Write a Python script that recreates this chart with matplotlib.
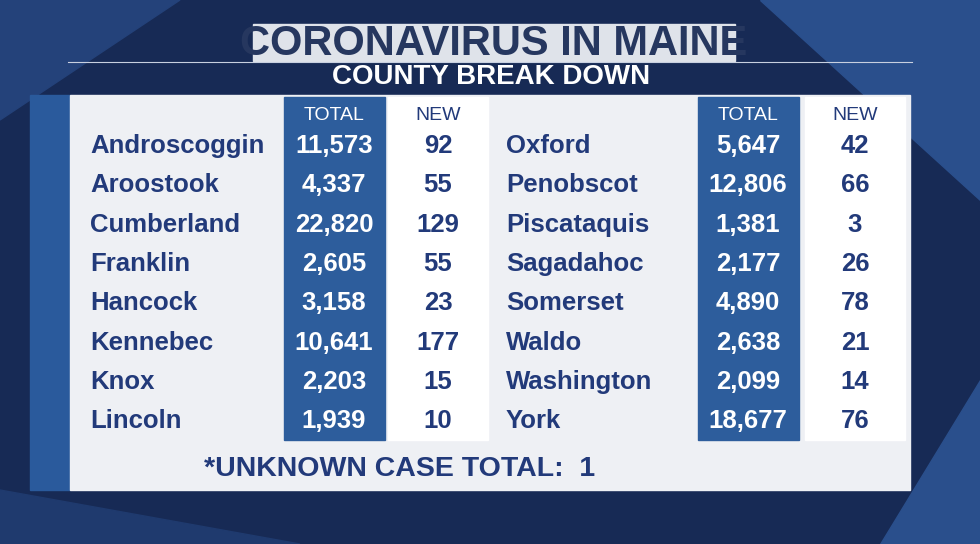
import matplotlib.pyplot as plt
from matplotlib.patches import Rectangle, Polygon

plt.rcParams["font.family"] = ["Liberation Sans", "DejaVu Sans"]

# Data
left_counties = ["Androscoggin", "Aroostook", "Cumberland", "Franklin",
                 "Hancock", "Kennebec", "Knox", "Lincoln"]
left_total = ["11,573", "4,337", "22,820", "2,605", "3,158", "10,641", "2,203", "1,939"]
left_new = ["92", "55", "129", "55", "23", "177", "15", "10"]
right_counties = ["Oxford", "Penobscot", "Piscataquis", "Sagadahoc",
                  "Somerset", "Waldo", "Washington", "York"]
right_total = ["5,647", "12,806", "1,381", "2,177", "4,890", "2,638", "2,099", "18,677"]
right_new = ["42", "66", "3", "26", "78", "21", "14", "76"]
title = "CORONAVIRUS IN MAINE"
subtitle = "COUNTY BREAK DOWN"
footnote = "*UNKNOWN CASE TOTAL:  1"

navy = "#223a7a"
colblue = "#2d5d9c"

fig = plt.figure(figsize=(9.8, 5.44), dpi=100)
ax = fig.add_axes([0, 0, 1, 1])
ax.set_xlim(0, 980)
ax.set_ylim(544, 0)
ax.axis("off")

# background with diagonal bands
ax.add_patch(Rectangle((0, 0), 980, 544, color="#172a55", zorder=0))
ax.add_patch(Polygon([(0, 0), (180, 0), (0, 120)], color="#24427a", zorder=0))
ax.add_patch(Polygon([(760, 0), (980, 0), (980, 200)], color="#2a4f8c", zorder=0))
ax.add_patch(Polygon([(880, 544), (980, 544), (980, 380)], color="#2a4f8c", zorder=0))
ax.add_patch(Polygon([(0, 490), (300, 544), (0, 544)], color="#1f3a6e", zorder=0))

# title
ax.add_patch(Rectangle((253, 24), 482, 37, color="#dfe3ea", zorder=1))
ax.text(494, 44, title, ha="center", va="center", fontsize=30,
        fontweight="bold", color="#26375f", zorder=2)
ax.plot([68, 912], [62, 62], color="#c8d0e0", lw=0.8, zorder=1)
ax.text(491, 77, subtitle, ha="center", va="center", fontsize=20,
        fontweight="bold", color="white", zorder=2)

# panel
ax.add_patch(Rectangle((30, 95), 40, 395, color="#2a5a9c", zorder=1))
ax.add_patch(Rectangle((70, 95), 840, 395, color="#eef0f4", zorder=1))

row_y = [146 + i * 39.3 for i in range(8)]
header_y = 116

blocks = [
    (left_counties, left_total, left_new, 90, 284, 388),
    (right_counties, right_total, right_new, 506, 698, 805),
]
for names, totals, news, name_x, tot_x, new_x in blocks:
    ax.add_patch(Rectangle((tot_x, 97), 101, 343, color=colblue, zorder=2))
    ax.add_patch(Rectangle((new_x, 97), 100, 343, color="white", zorder=2))
    ax.text(tot_x + 50, header_y, "TOTAL", ha="center", va="center",
            fontsize=14, color="white", zorder=3)
    ax.text(new_x + 50, header_y, "NEW", ha="center", va="center",
            fontsize=14, color=navy, zorder=3)
    for y, n, t, w in zip(row_y, names, totals, news):
        ax.text(name_x, y, n, ha="left", va="center", fontsize=18.5,
                fontweight="bold", color=navy, zorder=3)
        ax.text(tot_x + 50, y, t, ha="center", va="center", fontsize=18.5,
                fontweight="bold", color="white", zorder=3)
        ax.text(new_x + 50, y, w, ha="center", va="center", fontsize=18.5,
                fontweight="bold", color=navy, zorder=3)

ax.text(204, 469, footnote, ha="left", va="center", fontsize=20.5,
        fontweight="bold", color=navy, zorder=3)

fig.savefig("out.png", dpi=100)
